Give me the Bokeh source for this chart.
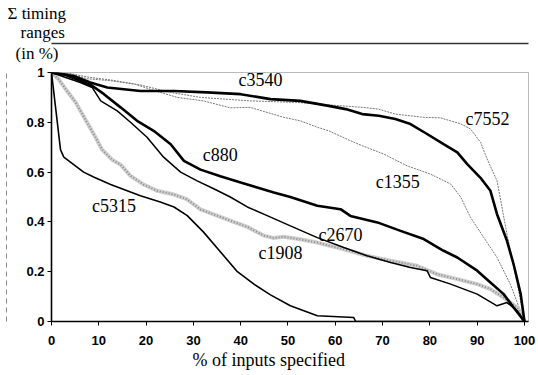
from bokeh.plotting import figure
from bokeh.models import Range1d, FixedTicker, Label, Title, LinearAxis, CustomJSTickFormatter
from bokeh.embed import file_html
from bokeh.resources import INLINE

# ---------------- data ----------------
x_ticks = [0, 10, 20, 30, 40, 50, 60, 70, 80, 90, 100]
y_ticks = [0, 0.2, 0.4, 0.6, 0.8, 1.0]

c3540_x = [0, 4.7, 8.2, 11.8, 18.8, 25.9, 32.9, 40, 46.3, 52.6, 58.6, 62.2, 65.7, 69.2, 72.7, 75.9, 79.4, 82.9, 85.8, 87.9, 90.7, 92.8, 94.2, 96.3, 97.7, 99.2, 100]
c3540_y = [1.0, 0.986, 0.96, 0.94, 0.926, 0.926, 0.92, 0.913, 0.893, 0.886, 0.866, 0.853, 0.833, 0.826, 0.813, 0.793, 0.753, 0.712, 0.679, 0.632, 0.577, 0.525, 0.431, 0.324, 0.23, 0.11, 0.0]

c7552_x = [0, 4, 7.5, 12.5, 18.8, 25.2, 31.5, 42, 51.6, 58.6, 65.7, 69.1, 72.7, 78.7, 82.2, 86.5, 88.6, 90.7, 92.1, 94.2, 96.3, 98.5, 100]
c7552_y = [1.0, 0.995, 0.975, 0.967, 0.95, 0.92, 0.90, 0.886, 0.88, 0.87, 0.86, 0.853, 0.833, 0.82, 0.818, 0.794, 0.773, 0.72, 0.653, 0.565, 0.35, 0.15, 0.0]

c1355_x = [0, 4, 8.2, 12.5, 17.3, 22, 26.6, 32.1, 37.8, 42, 49.1, 52.6, 56.2, 58.6, 63.2, 65.7, 70.3, 75.2, 80.1, 84.4, 86.5, 88.6, 91.4, 94.2, 97, 100]
c1355_y = [1.0, 0.995, 0.98, 0.97, 0.955, 0.926, 0.90, 0.886, 0.858, 0.86, 0.82, 0.806, 0.78, 0.766, 0.726, 0.706, 0.672, 0.625, 0.592, 0.552, 0.50, 0.418, 0.337, 0.257, 0.15, 0.0]

c880_x = [0, 3, 6.1, 8.6, 11.1, 14.6, 18.1, 21.6, 25.2, 28, 31.5, 35.7, 40, 43.5, 47, 50.5, 56.2, 61.1, 63.2, 68.9, 73.8, 78.7, 82.9, 85.8, 90, 92.8, 95.6, 97.7, 100]
c880_y = [1.0, 0.99, 0.967, 0.947, 0.913, 0.86, 0.806, 0.766, 0.712, 0.645, 0.61, 0.583, 0.558, 0.538, 0.518, 0.50, 0.465, 0.451, 0.424, 0.398, 0.364, 0.331, 0.284, 0.257, 0.204, 0.157, 0.11, 0.056, 0.0]

c2670_x = [0, 3, 6.1, 8.6, 10.4, 13.9, 16.7, 20.2, 23.7, 27.3, 30.8, 34.3, 37.8, 41.4, 45.6, 50.5, 56.2, 61.8, 66.7, 71.7, 75.9, 79.4, 80.1, 84.4, 90, 94.2, 96.3, 98.5, 100]
c2670_y = [1.0, 0.98, 0.96, 0.94, 0.886, 0.846, 0.80, 0.74, 0.66, 0.60, 0.565, 0.533, 0.50, 0.46, 0.425, 0.384, 0.337, 0.297, 0.264, 0.237, 0.217, 0.204, 0.177, 0.15, 0.11, 0.063, 0.076, 0.043, 0.0]

c1908_x = [0, 1.5, 3.0, 5.1, 7.2, 9.3, 10.7, 12.8, 14.6, 16.7, 19.5, 22.3, 25.9, 28.7, 31.5, 35, 38.5, 41.4, 44.9, 47, 49.1, 52.6, 56.2, 61.8, 66.7, 71.7, 77.3, 81.5, 85.8, 90, 92.8, 95.6, 98.5, 100]
c1908_y = [1.0, 0.973, 0.933, 0.88, 0.81, 0.74, 0.69, 0.65, 0.63, 0.585, 0.55, 0.525, 0.51, 0.49, 0.45, 0.425, 0.40, 0.38, 0.345, 0.335, 0.34, 0.33, 0.317, 0.29, 0.264, 0.244, 0.224, 0.19, 0.17, 0.15, 0.13, 0.096, 0.056, 0.0]

c5315_x = [0, 1.9, 2.6, 4.7, 6.8, 8.9, 12.5, 16, 18.8, 23, 25.9, 28.7, 32.1, 35.7, 39.3, 42.8, 46.3, 50.5, 56.2, 63.9, 64.3, 100]
c5315_y = [1.0, 0.69, 0.66, 0.63, 0.60, 0.58, 0.55, 0.525, 0.505, 0.48, 0.46, 0.425, 0.36, 0.28, 0.20, 0.15, 0.107, 0.063, 0.023, 0.016, 0.0, 0.0]

label_names = ["c3540", "c880", "c7552", "c1355", "c2670", "c1908", "c5315"]
label_x = [44.2, 35.7, 92.2, 73.2, 61.1, 48.4, 13.2]
label_y = [0.971, 0.670, 0.814, 0.561, 0.348, 0.276, 0.465]

y_title_lines = ["\u03a3 timing", "ranges", "(in %)"]
x_title = "% of inputs specified"

# ---------------- figure ----------------
SERIF = "Liberation Serif"
SANS = "Liberation Sans"

p = figure(width=538, height=375, x_range=Range1d(0, 100.85), y_range=Range1d(0, 1.0),
           output_backend="svg", toolbar_location=None,
           min_border_left=51, min_border_right=10, min_border_top=72, min_border_bottom=54)
p.grid.visible = False
p.background_fill_color = "white"
p.border_fill_color = "white"
p.outline_line_color = "#777777"
p.outline_line_dash = "1 1"
p.outline_line_width = 1

for ax in (p.xaxis[0], p.yaxis[0]):
    ax.axis_line_color = "black"
    ax.axis_line_width = 1.6
    ax.major_tick_line_color = "black"
    ax.major_tick_line_width = 1
    ax.major_tick_out = 4
    ax.major_tick_in = 0
    ax.minor_tick_line_color = None
    ax.minor_tick_out = 0
    ax.major_label_text_font = SANS
    ax.major_label_text_font_size = "13px"
    ax.major_label_text_font_style = "bold"
    ax.major_label_text_color = "black"

p.xaxis.ticker = FixedTicker(ticks=x_ticks)
p.xaxis.major_label_standoff = 10
p.yaxis.ticker = FixedTicker(ticks=y_ticks)
p.yaxis.major_label_standoff = 3
p.yaxis.formatter = CustomJSTickFormatter(code="var s = tick.toFixed(1); return s.replace(/\\.0$/, '');")


def rule_axis(color, dash="solid", width=1.0):
    """Axis used only to draw a page rule (no ticks, no labels)."""
    return LinearAxis(ticker=FixedTicker(ticks=[]), major_tick_out=0, major_tick_in=0,
                      minor_tick_out=0, minor_tick_in=0, major_label_standoff=0,
                      axis_line_color=color, axis_line_width=width, axis_line_dash=dash)


def spacer(gap):
    """Empty title used as a gap in the side panels."""
    return Title(text=" ", text_font_size="1px", standoff=gap, text_color="white")


# curves
p.line(c1355_x, c1355_y, line_color="#777777", line_width=1, line_dash="2 1")
p.line(c7552_x, c7552_y, line_color="#777777", line_width=1, line_dash="2 1")
p.line(c1908_x, c1908_y, line_color="#cfcfcf", line_width=4)
p.line(c1908_x, c1908_y, line_color="#8a8a8a", line_width=2, line_dash="1 2")
p.line(c5315_x, c5315_y, line_color="black", line_width=1.6)
p.line(c2670_x, c2670_y, line_color="black", line_width=1.5)
p.line(c880_x, c880_y, line_color="black", line_width=2.6)
p.line(c3540_x, c3540_y, line_color="black", line_width=2.6)

for name, lx, ly in zip(label_names, label_x, label_y):
    p.add_layout(Label(x=lx, y=ly, text=name, text_align="center", text_baseline="middle",
                       text_font=SERIF, text_font_size="18px", text_color="black"))

# y title block above the plot (stacked from the frame outward)
p.add_layout(spacer(5), "above")
p.add_layout(Title(text=y_title_lines[2], align="left", offset=-36, standoff=0, vertical_align="top",
                   text_font=SERIF, text_font_size="17px", text_font_style="normal", text_color="black"), "above")
p.add_layout(rule_axis("#333333", width=1.5), "above")
p.add_layout(Title(text=y_title_lines[1], align="left", offset=-31, standoff=0, vertical_align="top",
                   text_font=SERIF, text_font_size="17px", text_font_style="normal", text_color="black"), "above")
p.add_layout(Title(text=y_title_lines[0], align="left", offset=-44, standoff=0, vertical_align="bottom",
                   text_font=SERIF, text_font_size="17px", text_font_style="normal", text_color="black"), "above")

# dashed page rule at the far left
p.add_layout(spacer(14), "left")
p.add_layout(rule_axis("#888888", dash="5 4"), "left")

# x title below
p.add_layout(Title(text=x_title, align="left", offset=141, standoff=4, vertical_align="top",
                   text_font=SERIF, text_font_size="18px", text_font_style="normal", text_color="black"), "below")

open("out.html", "w").write(file_html(p, INLINE))
